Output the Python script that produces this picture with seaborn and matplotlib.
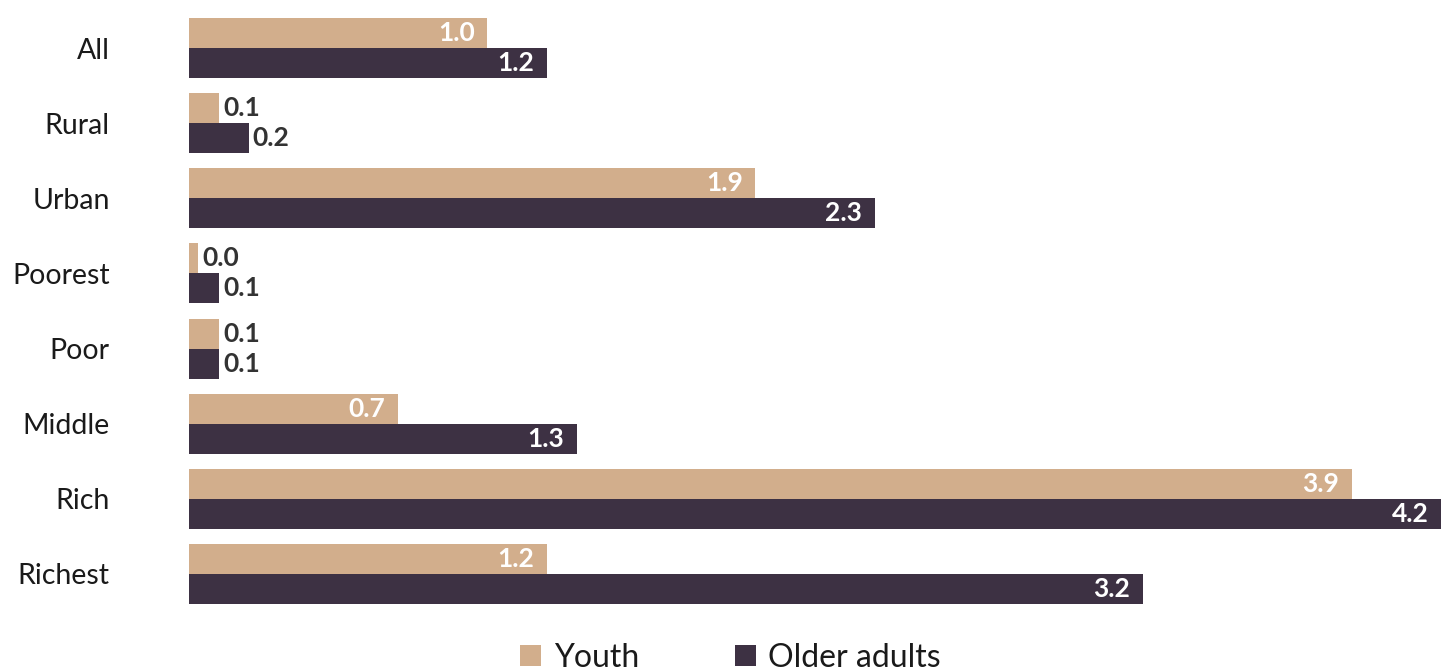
import matplotlib
matplotlib.use("Agg")
import matplotlib.pyplot as plt
import seaborn as sns
import pandas as pd

categories = ["All", "Rural", "Urban", "Poorest", "Poor", "Middle", "Rich", "Richest"]
youth = [1.0, 0.1, 1.9, 0.03, 0.1, 0.7, 3.9, 1.2]
older_adults = [1.2, 0.2, 2.3, 0.1, 0.1, 1.3, 4.2, 3.2]
series_names = ["Youth", "Older adults"]
palette = ["#D2AE8C", "#3D3143"]

df = pd.DataFrame({
    "group": categories * 2,
    "value": youth + older_adults,
    "series": [series_names[0]] * len(categories) + [series_names[1]] * len(categories),
})

sns.set_theme(style="white")
plt.rcParams["font.family"] = ["Lato", "DejaVu Sans"]

fig = plt.figure(figsize=(14.41, 6.71), dpi=100)
ax = fig.add_axes([189 / 1441, 1 - 604 / 671, 1 - 189 / 1441, (604 - 18) / 671])

sns.barplot(data=df, y="group", x="value", hue="series", order=categories,
            hue_order=series_names, palette=palette, orient="h",
            width=0.8, saturation=1, linewidth=0, ax=ax)

ax.set_xlim(0, 4.2)
ax.set_ylim(len(categories) - 0.6, -0.4)
ax.set_xlabel("")
ax.set_ylabel("")
ax.set_xticks([])
for s in ax.spines.values():
    s.set_visible(False)
ax.tick_params(axis="y", length=0, pad=57, labelsize=20.5, labelcolor="#1a1a1a")

# value labels inside the bar ends, outside when the bar is too short
px_per_unit = (1441 - 189) / 4.2
for container in ax.containers:
    for bar in container:
        w = bar.get_width()
        y = bar.get_y() + bar.get_height() / 2
        label = f"{w:.1f}"
        if w * px_per_unit < 60:
            ax.annotate(label, (w, y), xytext=(3, 0), textcoords="offset points",
                        ha="left", va="center", fontsize=19, fontweight="bold",
                        color="#333333")
        else:
            ax.annotate(label, (w, y), xytext=(-9, 0), textcoords="offset points",
                        ha="right", va="center", fontsize=19, fontweight="bold",
                        color="white")

handles, labels = ax.get_legend_handles_labels()
ax.legend_.remove()
fig.legend(handles, labels, loc="center", bbox_to_anchor=(0.507, 0.02),
           ncol=2, frameon=False, fontsize=23, handlelength=0.65,
           handleheight=0.65, handletextpad=0.4, columnspacing=3.0,
           labelcolor="#1a1a1a")

fig.savefig("out.png", dpi=100)
